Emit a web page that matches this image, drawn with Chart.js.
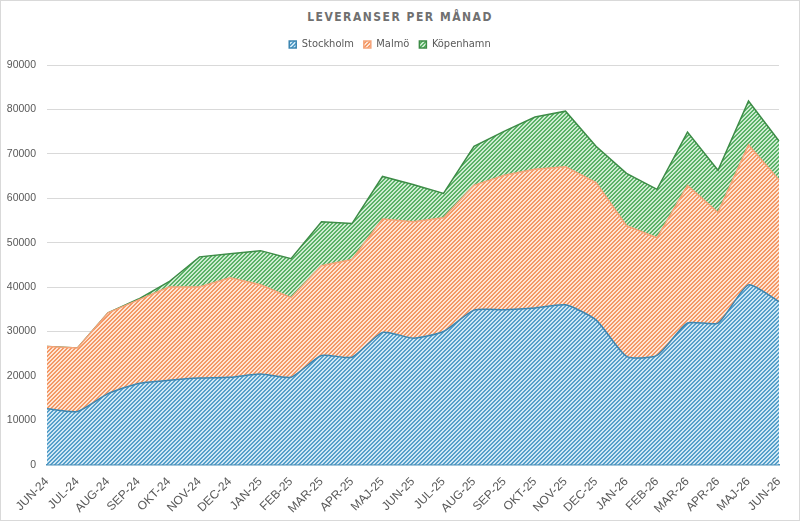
<!DOCTYPE html>
<html lang="sv">
<head>
<meta charset="utf-8">
<title>Leveranser per månad</title>
<script src="https://cdn.jsdelivr.net/npm/chart.js@4.4.1/dist/chart.umd.min.js"></script>
<style>
  html, body { margin: 0; padding: 0; background: #fff; }
  .frame {
    position: relative;
    width: 800px;
    height: 521px;
    box-sizing: border-box;
    border: 1px solid #d9d9d9;
    overflow: hidden;
  }
  .title {
    position: absolute;
    top: 9px;
    left: 0;
    width: 100%;
    text-align: center;
    font: bold 12px "Liberation Sans Narrow", "DejaVu Sans Condensed", sans-serif;
    letter-spacing: 1.5px;
    color: #707070;
  }
  canvas { position: absolute; left: 0; top: 0; }
</style>
</head>
<body>
<div class="frame">
  <div class="title">LEVERANSER PER MÅNAD</div>
  <canvas id="chart" width="798" height="519"></canvas>
</div>
<script>
  const months = ['JUN-24', 'JUL-24', 'AUG-24', 'SEP-24', 'OKT-24', 'NOV-24', 'DEC-24', 'JAN-25',
    'FEB-25', 'MAR-25', 'APR-25', 'MAJ-25', 'JUN-25', 'JUL-25', 'AUG-25', 'SEP-25', 'OKT-25',
    'NOV-25', 'DEC-25', 'JAN-26', 'FEB-26', 'MAR-26', 'APR-26', 'MAJ-26', 'JUN-26'];

  const stockholm = [12600, 12000, 16000, 18300, 19000, 19500, 19700, 20400, 19700, 24600, 24200, 29800,
    28500, 30000, 34800, 34900, 35300, 36000, 32600, 24400, 24600, 31900, 31900, 40500, 36700];

  const malmo = [14000, 14300, 18200, 18800, 21000, 20500, 22400, 20100, 17900, 20200, 22000, 25500,
    26200, 25600, 28100, 30300, 31200, 31100, 30900, 29400, 26500, 31000, 24900, 31500, 27400];

  const kopenhamn = [0, 0, 0, 200, 1200, 6800, 5400, 7700, 8800, 9900, 8100, 9600,
    8400, 5500, 8800, 9900, 11800, 12500, 8200, 11800, 10900, 12000, 9500, 9900, 8800];

  const yTicks = [0, 10000, 20000, 30000, 40000, 50000, 60000, 70000, 80000, 90000];

  // small diagonal hatch tile, like the office "wide upward diagonal" fill
  function hatch(light, dark) {
    const tile = document.createElement('canvas');
    tile.width = 4;
    tile.height = 4;
    const t = tile.getContext('2d');
    t.fillStyle = light;
    t.fillRect(0, 0, 4, 4);
    t.fillStyle = dark;
    for (let x = 0; x < 4; x++) {
      for (let y = 0; y < 4; y++) {
        if ((x + y) % 4 < 2) t.fillRect(x, y, 1, 1);
      }
    }
    return document.getElementById('chart').getContext('2d').createPattern(tile, 'repeat');
  }

  const blueFill = hatch('#cfe7f4', '#569fca');
  const orangeFill = hatch('#fee5d5', '#f39865');
  const greenFill = hatch('#cdebd1', '#5ab266');

  const sans = '"Liberation Sans", Arial, sans-serif';

  // extra room under the legend
  const legendGap = {
    id: 'legendGap',
    beforeInit(chart) {
      const fit = chart.legend.fit;
      chart.legend.fit = function () {
        fit.call(this);
        this.height += 5;
      };
    }
  };

  new Chart(document.getElementById('chart'), {
    type: 'line',
    data: {
      labels: months,
      datasets: [
        {
          label: 'Stockholm',
          data: stockholm,
          backgroundColor: blueFill,
          borderColor: '#3d86b1',
          borderWidth: 1.5,
          fill: 'origin',
          tension: 0.2,
          pointRadius: 0
        },
        {
          label: 'Malmö',
          data: malmo,
          backgroundColor: orangeFill,
          borderColor: '#f5a47a',
          borderWidth: 1.5,
          fill: '-1',
          tension: 0,
          pointRadius: 0
        },
        {
          label: 'Köpenhamn',
          data: kopenhamn,
          backgroundColor: greenFill,
          borderColor: '#3d8c47',
          borderWidth: 1.5,
          fill: '-1',
          tension: 0,
          pointRadius: 0
        }
      ]
    },
    options: {
      responsive: false,
      animation: false,
      layout: { padding: { top: 28, right: 20, left: 0, bottom: 2 } },
      plugins: {
        legend: {
          position: 'top',
          labels: {
            boxWidth: 7,
            boxHeight: 7,
            padding: 10,
            color: '#595959',
            font: { family: '"Liberation Sans Narrow", "DejaVu Sans Condensed", sans-serif', size: 11 }
          }
        },
        tooltip: { enabled: false }
      },
      scales: {
        x: {
          offset: false,
          grid: { display: false },
          border: { color: '#4a8fb8', width: 1.5 },
          afterFit: (scale) => {
            scale.paddingLeft = 0;
            scale.paddingRight = 0;
          },
          ticks: {
            color: '#595959',
            font: { family: sans, size: 12 },
            autoSkip: false,
            maxRotation: 45,
            minRotation: 45,
            padding: 2
          }
        },
        y: {
          stacked: true,
          min: 0,
          max: 90000,
          afterBuildTicks: (scale) => {
            scale.ticks = yTicks.map(v => ({ value: v }));
          },
          afterFit: (scale) => {
            scale.width = 46;
          },
          grid: { color: '#d9d9d9', drawTicks: false },
          border: { display: false },
          ticks: {
            color: '#595959',
            font: { family: sans, size: 10.5 },
            padding: 11,
            callback: v => String(v)
          }
        }
      }
    },
    plugins: [legendGap]
  });
</script>
</body>
</html>
